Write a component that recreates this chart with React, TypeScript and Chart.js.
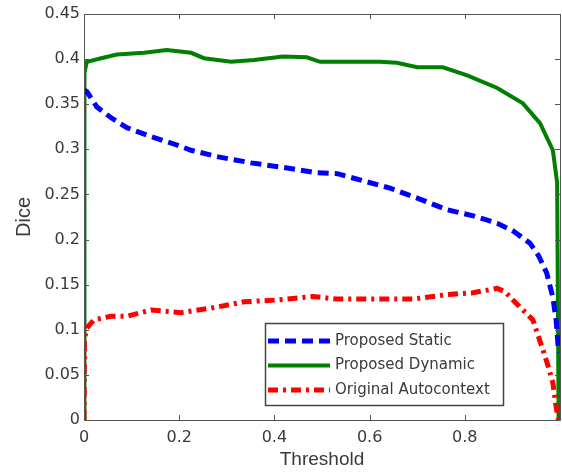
import React, { useEffect, useRef } from "react";
import { Chart, registerables } from "chart.js";

Chart.register(...registerables);

const xTickValues = [0, 0.2, 0.4, 0.6, 0.8, 1];
const xTickLabels = ["0", "0.2", "0.4", "0.6", "0.8", ""];
const yTickValues = [0, 0.05, 0.1, 0.15, 0.2, 0.25, 0.3, 0.35, 0.4, 0.45];
const yTickLabels = ["0", "0.05", "0.1", "0.15", "0.2", "0.25", "0.3", "0.35", "0.4", "0.45"];

const seriesNames = ["Proposed Static", "Proposed Dynamic", "Original Autocontext"];

const staticX = [0, 0.006, 0.027, 0.057, 0.09, 0.141, 0.183, 0.225, 0.279, 0.351, 0.418, 0.489, 0.532, 0.594, 0.643, 0.7, 0.763, 0.82, 0.868, 0.9, 0.937, 0.955, 0.972, 0.985, 0.992, 0.997];
const staticY = [0.366, 0.364, 0.347, 0.335, 0.324, 0.314, 0.307, 0.299, 0.292, 0.285, 0.28, 0.274, 0.273, 0.264, 0.257, 0.246, 0.233, 0.226, 0.218, 0.21, 0.196, 0.182, 0.163, 0.136, 0.11, 0.075];

const dynamicX = [0, 0.001, 0.006, 0.036, 0.069, 0.126, 0.174, 0.225, 0.252, 0.309, 0.357, 0.418, 0.468, 0.496, 0.574, 0.622, 0.657, 0.7, 0.754, 0.805, 0.868, 0.922, 0.958, 0.985, 0.994, 0.996, 0.997];
const dynamicY = [0, 0.385, 0.397, 0.401, 0.405, 0.407, 0.41, 0.407, 0.401, 0.397, 0.399, 0.403, 0.402, 0.397, 0.397, 0.397, 0.396, 0.391, 0.391, 0.382, 0.368, 0.351, 0.329, 0.299, 0.263, 0.1, 0];

const autoX = [0, 0.001, 0.006, 0.021, 0.057, 0.09, 0.141, 0.204, 0.267, 0.336, 0.405, 0.481, 0.531, 0.691, 0.763, 0.817, 0.868, 0.885, 0.901, 0.922, 0.943, 0.964, 0.975, 0.985, 0.992, 0.997];
const autoY = [0, 0.09, 0.102, 0.111, 0.115, 0.115, 0.122, 0.119, 0.124, 0.131, 0.133, 0.137, 0.134, 0.134, 0.139, 0.141, 0.146, 0.142, 0.133, 0.122, 0.111, 0.078, 0.06, 0.041, 0.014, 0];

const toPoints = (xs: number[], ys: number[]) => xs.map((x, i) => ({ x, y: ys[i] }));

const FONT = "'DejaVu Sans', sans-serif";
const TITLE_FONT = "'Liberation Sans', Arial, sans-serif";
const AXIS_COLOR = "#555555";
const TEXT_COLOR = "#3a3a3a";

const boxTicksPlugin = {
  id: "boxTicks",
  afterDraw(chart: any) {
    const { ctx, chartArea } = chart;
    const { left, right, top, bottom } = chartArea;
    const xs = chart.scales.x;
    const ys = chart.scales.y;
    ctx.save();
    ctx.strokeStyle = AXIS_COLOR;
    ctx.lineWidth = 1;
    ctx.beginPath();
    ctx.rect(left + 0.5, top + 0.5, right - left, bottom - top);
    ctx.stroke();
    const tl = 5;
    ctx.beginPath();
    xTickValues.forEach((v) => {
      const px = Math.round(xs.getPixelForValue(v)) + 0.5;
      ctx.moveTo(px, bottom);
      ctx.lineTo(px, bottom - tl);
      ctx.moveTo(px, top);
      ctx.lineTo(px, top + tl);
    });
    yTickValues.forEach((v) => {
      const py = Math.round(ys.getPixelForValue(v)) + 0.5;
      ctx.moveTo(left, py);
      ctx.lineTo(left + tl, py);
      ctx.moveTo(right, py);
      ctx.lineTo(right - tl, py);
    });
    ctx.stroke();
    ctx.restore();
  },
};

const legendPlugin = {
  id: "boxLegend",
  afterDraw(chart: any) {
    const { ctx } = chart;
    const bx = 265, by = 323, bw = 238, bh = 82;
    ctx.save();
    ctx.fillStyle = "#ffffff";
    ctx.fillRect(bx, by, bw, bh);
    ctx.strokeStyle = "#444444";
    ctx.lineWidth = 1.5;
    ctx.strokeRect(bx + 0.5, by + 0.5, bw, bh);
    [0, 1, 2].forEach((di, i) => {
      const ds = chart.data.datasets[di];
      const y = by + 18 + i * 24.5;
      ctx.beginPath();
      ctx.setLineDash(ds.borderDash || []);
      ctx.strokeStyle = ds.borderColor;
      ctx.lineWidth = ds.borderWidth;
      ctx.moveTo(bx + 3, y);
      ctx.lineTo(bx + 65, y);
      ctx.stroke();
      ctx.setLineDash([]);
      ctx.fillStyle = TEXT_COLOR;
      ctx.font = `15px ${FONT}`;
      ctx.textBaseline = "middle";
      ctx.textAlign = "left";
      ctx.fillText(ds.label, bx + 70, y);
    });
    ctx.restore();
  },
};

export default function App() {
  const ref = useRef<HTMLCanvasElement | null>(null);
  useEffect(() => {
    document.body.style.margin = "0";
    const canvas = ref.current;
    if (!canvas) return;
    const chart = new Chart(canvas, {
      type: "scatter",
      data: {
        datasets: [
          {
            label: seriesNames[0],
            data: toPoints(staticX, staticY),
            showLine: true,
            borderColor: "#0000ff",
            backgroundColor: "#0000ff",
            borderWidth: 5,
            borderDash: [11, 6],
            pointRadius: 0,
            tension: 0,
            order: 1,
          },
          {
            label: seriesNames[1],
            data: toPoints(dynamicX, dynamicY),
            showLine: true,
            borderColor: "#008000",
            backgroundColor: "#008000",
            borderWidth: 4,
            pointRadius: 0,
            tension: 0,
            order: 2,
          },
          {
            label: seriesNames[2],
            data: toPoints(autoX, autoY),
            showLine: true,
            borderColor: "#ff0000",
            backgroundColor: "#ff0000",
            borderWidth: 5,
            borderDash: [10, 5, 3, 5],
            pointRadius: 0,
            tension: 0,
            order: 0,
          },
        ],
      },
      options: {
        responsive: false,
        animation: false,
        layout: { padding: { top: 14, right: 2, left: 0, bottom: 0 } },
        plugins: { legend: { display: false }, tooltip: { enabled: false } },
        scales: {
          x: {
            type: "linear",
            min: 0,
            max: 1,
            afterBuildTicks: (s: any) => {
              s.ticks = xTickValues.map((v) => ({ value: v }));
            },
            afterFit: (s: any) => {
              s.height = 52;
              s.paddingLeft = 0;
              s.paddingRight = 0;
            },
            grid: { display: false, drawTicks: false },
            border: { display: false },
            ticks: {
              padding: 8,
              maxRotation: 0,
              autoSkip: false,
              color: TEXT_COLOR,
              font: { family: FONT, size: 16 },
              callback: (v: any) => {
                const i = xTickValues.indexOf(Number(v));
                return i >= 0 ? xTickLabels[i] : "";
              },
            },
            title: {
              display: true,
              text: "Threshold",
              color: TEXT_COLOR,
              font: { family: TITLE_FONT, size: 19 },
              padding: { top: 0, bottom: 1 },
            },
          },
          y: {
            type: "linear",
            min: 0,
            max: 0.45,
            afterBuildTicks: (s: any) => {
              s.ticks = yTickValues.map((v) => ({ value: v }));
            },
            afterFit: (s: any) => {
              s.width = 84;
              s.paddingTop = 0;
              s.paddingBottom = 0;
            },
            grid: { display: false, drawTicks: false },
            border: { display: false },
            ticks: {
              padding: 4,
              autoSkip: false,
              color: TEXT_COLOR,
              font: { family: FONT, size: 16 },
              callback: (v: any) => {
                const i = yTickValues.findIndex((t) => Math.abs(t - Number(v)) < 1e-9);
                return i >= 0 ? yTickLabels[i] : "";
              },
            },
            title: {
              display: true,
              text: "Dice",
              color: TEXT_COLOR,
              font: { family: TITLE_FONT, size: 20 },
              padding: { top: 12, bottom: 0 },
            },
          },
        },
      },
      plugins: [boxTicksPlugin, legendPlugin],
    });
    return () => chart.destroy();
  }, []);
  return (
    <div style={{ width: 562, height: 472, background: "#fff" }}>
      <canvas ref={ref} width={562} height={472} />
    </div>
  );
}
